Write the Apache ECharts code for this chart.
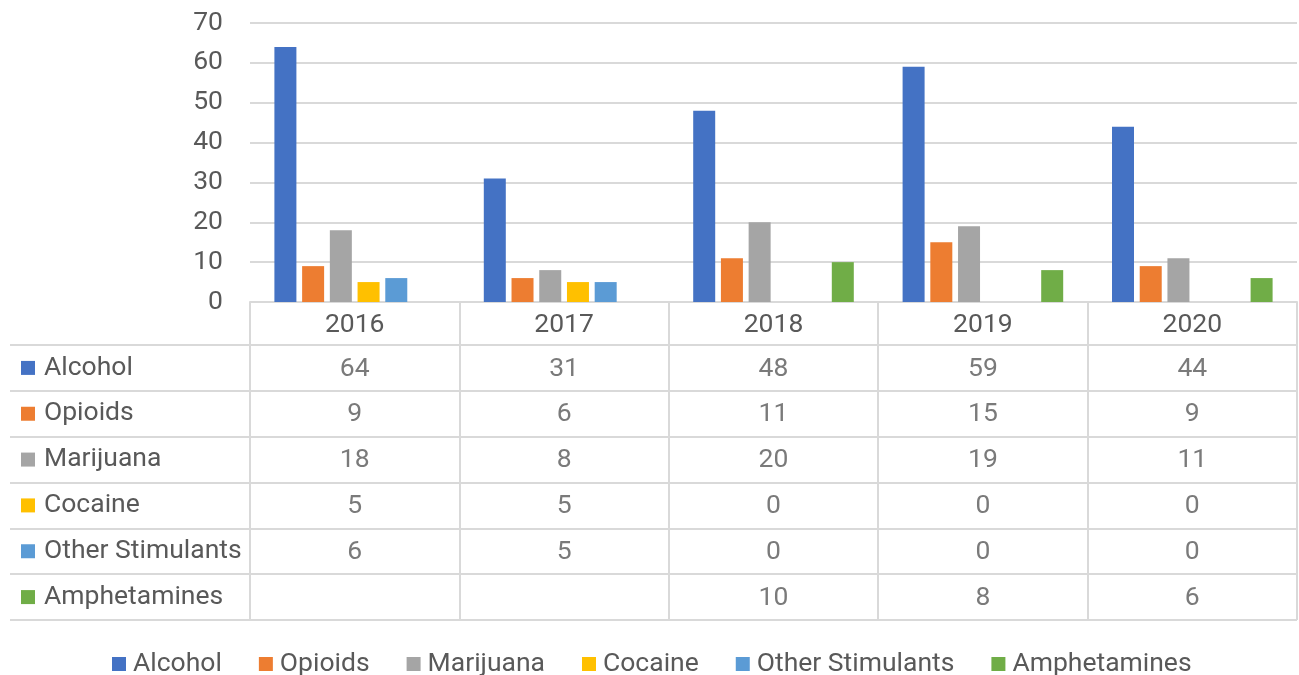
<!DOCTYPE html>
<html>
<head>
<meta charset="utf-8">
<script src="https://cdn.jsdelivr.net/npm/echarts@6/dist/echarts.min.js"></script>
<style>
  html, body { margin: 0; padding: 0; background: #fff; }
  #chart { width: 1299px; height: 675px; }
</style>
</head>
<body>
<div id="chart"></div>
<script>
// Substance counts per year, shown as grouped bars with a data table below
const years = ['2016', '2017', '2018', '2019', '2020'];
const substances = ['Alcohol', 'Opioids', 'Marijuana', 'Cocaine', 'Other Stimulants', 'Amphetamines'];
const alcohol = [64, 31, 48, 59, 44];
const opioids = [9, 6, 11, 15, 9];
const marijuana = [18, 8, 20, 19, 11];
const cocaine = [5, 5, 0, 0, 0];
const otherStimulants = [6, 5, 0, 0, 0];
const amphetamines = [null, null, 10, 8, 6];
const yTicks = [0, 10, 20, 30, 40, 50, 60, 70];

const seriesValues = [alcohol, opioids, marijuana, cocaine, otherStimulants, amphetamines];
const colors = ['#4472C4', '#ED7D31', '#A5A5A5', '#FFC000', '#5B9BD5', '#70AD47'];
const textColor = '#595959';
const lineColor = '#D9D9D9';
const FONT = 'Roboto';
const FS = 26.5;

// Table cells: [year, substance, value]
const cells = [];
substances.forEach((name, s) => {
  seriesValues[s].forEach((v, i) => {
    if (v !== null) cells.push([years[i], name, v]);
  });
});

const rich = { t: { fontSize: FS, fontFamily: FONT, color: textColor, padding: [0, 0, 0, 9] } };
colors.forEach((c, i) => {
  rich['s' + i] = { width: 14, height: 14, backgroundColor: c };
});

const chart = echarts.init(document.getElementById('chart'), null, { renderer: 'canvas' });

chart.setOption({
  animation: false,
  color: colors,
  textStyle: { fontFamily: FONT },
  grid: [
    { left: 250, right: 2, top: 23, height: 279 },
    { left: 250, right: 2, top: 345, height: 275 }
  ],
  xAxis: [
    {
      type: 'category', gridIndex: 0, data: years,
      axisLine: { show: true, lineStyle: { color: lineColor, width: 2 } },
      axisTick: { show: true, length: 43, lineStyle: { color: lineColor, width: 2 } },
      axisLabel: { fontSize: FS, color: textColor, margin: 10, lineHeight: 27 },
      splitLine: { show: false }
    },
    {
      type: 'category', gridIndex: 1, data: years,
      axisLine: { show: false }, axisTick: { show: false }, axisLabel: { show: false },
      splitLine: { show: true, lineStyle: { color: lineColor, width: 2 } }
    }
  ],
  yAxis: [
    {
      type: 'value', gridIndex: 0, min: 0, max: 70, interval: 10,
      axisLine: { show: false }, axisTick: { show: false },
      axisLabel: {
        fontSize: FS, color: textColor, margin: 27,
        formatter: v => (yTicks.includes(v) ? String(v) : '')
      },
      splitLine: { show: true, lineStyle: { color: lineColor, width: 2 } }
    },
    {
      type: 'category', gridIndex: 1, data: substances, inverse: true,
      axisLine: { show: true, lineStyle: { color: lineColor, width: 2 } },
      axisTick: { show: true, length: 240, lineStyle: { color: lineColor, width: 2 } },
      axisLabel: {
        align: 'left', margin: 229,
        formatter: (v, i) => '{s' + i + '|}{t|' + v + '}',
        rich: rich
      },
      splitLine: { show: true, lineStyle: { color: lineColor, width: 2 } }
    },
    {
      // left border of the row-label column
      type: 'category', gridIndex: 1, data: substances, inverse: true, offset: 240,
      axisLine: { show: true, lineStyle: { color: lineColor, width: 2 } },
      axisTick: { show: false }, axisLabel: { show: false }, splitLine: { show: false }
    }
  ],
  legend: {
    data: substances,
    left: 112, top: 650, padding: 0,
    icon: 'rect', itemWidth: 14, itemHeight: 14, itemGap: 37,
    textStyle: { fontSize: FS, color: textColor, fontFamily: FONT, lineHeight: 28, padding: [0, 0, 0, 2] }
  },
  series: substances.map((name, s) => ({
    name: name,
    type: 'bar',
    xAxisIndex: 0, yAxisIndex: 0,
    data: seriesValues[s],
    barWidth: 22,
    barGap: '26%',
    itemStyle: { color: colors[s] }
  })).concat([{
    name: 'table',
    type: 'scatter',
    xAxisIndex: 1, yAxisIndex: 1,
    data: cells,
    symbolSize: 1,
    silent: true,
    itemStyle: { color: 'rgba(0,0,0,0)' },
    label: {
      show: true, position: 'inside', offset: [0, 1],
      formatter: p => String(p.value[2]),
      fontSize: FS, color: textColor, fontFamily: FONT
    }
  }])
});
</script>
</body>
</html>
